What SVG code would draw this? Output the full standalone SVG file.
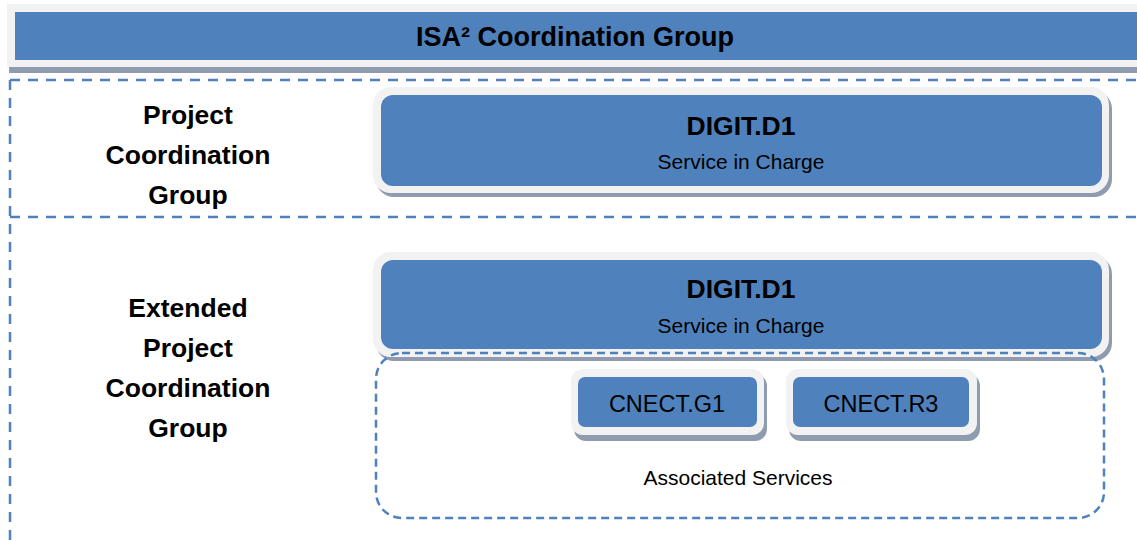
<svg xmlns="http://www.w3.org/2000/svg" width="1137" height="541" viewBox="0 0 1137 541">
  <style>
    .frame { fill: #f2f2f2; }
    .shadow { fill: #8f9bae; }
    .inner { fill: #4f81bd; }
    .sep { stroke: #4f81bd; stroke-width: 2.5; stroke-dasharray: 10 8; fill: none; }
    .assoc { stroke: #4f81bd; stroke-width: 2.5; stroke-dasharray: 8 5; fill: none; }
    .bold { font-family: "Liberation Sans", Arial, sans-serif; font-weight: bold; font-size: 26.5px; fill: #000; text-anchor: middle; }
    .title { font-size: 27px; }
    .reg { font-family: "Liberation Sans", Arial, sans-serif; font-size: 21px; fill: #000; text-anchor: middle; }
    .cn { font-family: "Liberation Sans", Arial, sans-serif; font-size: 23.5px; fill: #000; text-anchor: middle; }
  </style>
  <rect width="1137" height="541" fill="#ffffff"/>

  <g id="separators">
    <line class="sep" x1="10" y1="80" x2="1137" y2="80"/>
    <line class="sep" x1="10" y1="217" x2="1137" y2="217"/>
    <line class="sep" x1="10" y1="80" x2="10" y2="541"/>
  </g>

  <g id="isa2-coordination-group">
    <rect class="shadow" x="9" y="60" width="1140" height="13"/>
    <rect class="frame" x="7" y="4" width="1140" height="63"/>
    <rect class="inner" x="15" y="12" width="1130" height="48"/>
    <text class="bold title" x="575" y="46">ISA² Coordination Group</text>
  </g>

  <g id="label-project">
    <text class="bold" x="188" y="124">Project</text>
    <text class="bold" x="188" y="164">Coordination</text>
    <text class="bold" x="188" y="204">Group</text>
  </g>

  <g id="label-extended">
    <text class="bold" x="188" y="317">Extended</text>
    <text class="bold" x="188" y="357">Project</text>
    <text class="bold" x="188" y="397">Coordination</text>
    <text class="bold" x="188" y="437">Group</text>
  </g>

  <g id="digit-d1-pcg">
    <rect class="shadow" x="376" y="91" width="736" height="106" rx="18"/>
    <rect class="frame" x="373" y="87" width="736" height="106" rx="18"/>
    <rect class="inner" x="381" y="95" width="721" height="91" rx="12"/>
    <text class="bold" x="741" y="135">DIGIT.D1</text>
    <text class="reg" x="741" y="169">Service in Charge</text>
  </g>

  <g id="digit-d1-epcg">
    <rect class="shadow" x="376" y="256" width="736" height="105" rx="18"/>
    <rect class="frame" x="373" y="252" width="736" height="105" rx="18"/>
    <rect class="inner" x="381" y="260" width="721" height="89" rx="12"/>
    <text class="bold" x="741" y="298">DIGIT.D1</text>
    <text class="reg" x="741" y="333">Service in Charge</text>
  </g>

  <g id="associated-services">
    <rect class="assoc" x="376" y="353" width="728" height="165" rx="26"/>
    <text class="reg" x="738" y="485">Associated Services</text>
  </g>

  <g id="cnect-g1">
    <rect class="shadow" x="574" y="374" width="193" height="67" rx="12"/>
    <rect class="frame" x="571" y="369" width="193" height="66" rx="12"/>
    <rect class="inner" x="578" y="377" width="179" height="50" rx="7"/>
    <text class="cn" x="667" y="412">CNECT.G1</text>
  </g>

  <g id="cnect-r3">
    <rect class="shadow" x="789" y="374" width="191" height="67" rx="12"/>
    <rect class="frame" x="786" y="369" width="191" height="66" rx="12"/>
    <rect class="inner" x="793" y="377" width="176" height="50" rx="7"/>
    <text class="cn" x="881" y="412">CNECT.R3</text>
  </g>
</svg>
